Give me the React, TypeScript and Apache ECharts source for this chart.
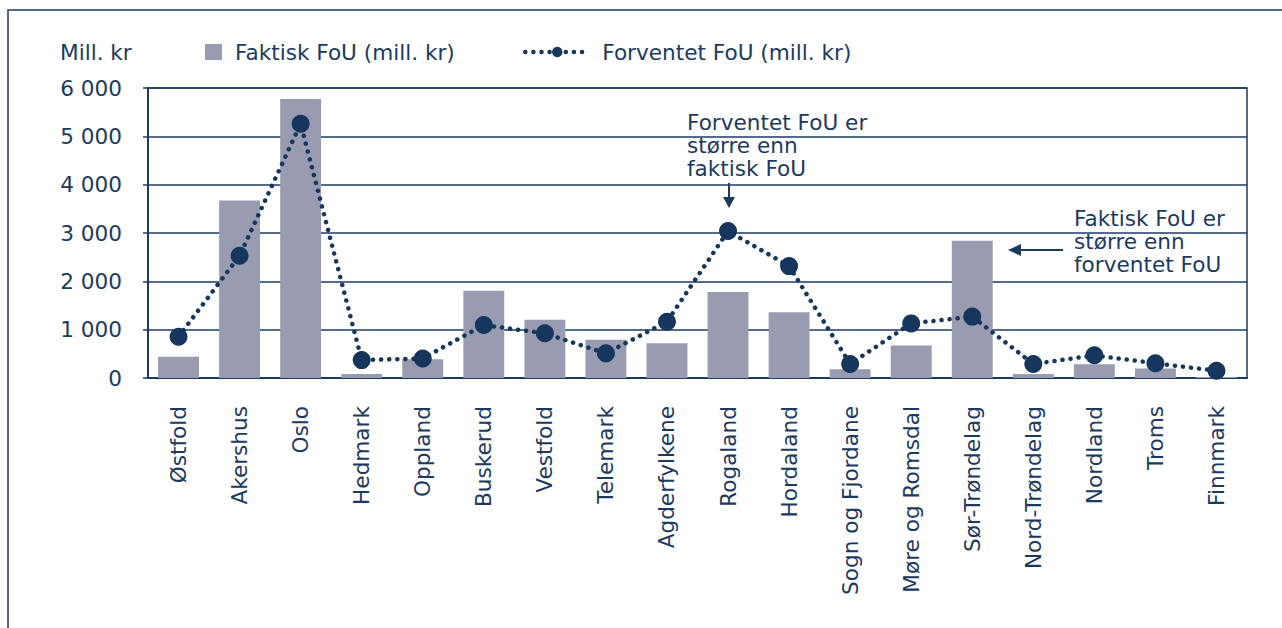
import React, { useEffect, useRef } from "react";
import * as echarts from "echarts";

const categories = [
  "Østfold", "Akershus", "Oslo", "Hedmark", "Oppland", "Buskerud", "Vestfold", "Telemark",
  "Agderfylkene", "Rogaland", "Hordaland", "Sogn og Fjordane", "Møre og Romsdal",
  "Sør-Trøndelag", "Nord-Trøndelag", "Nordland", "Troms", "Finnmark",
];
const faktisk = [440, 3670, 5770, 85, 390, 1805, 1205, 790, 720, 1780, 1360, 180, 670, 2840, 85, 285, 195, 20];
const forventet = [855, 2530, 5260, 370, 405, 1095, 925, 510, 1165, 3040, 2315, 290, 1130, 1270, 290, 470, 305, 150];
const yTicks = [0, 1000, 2000, 3000, 4000, 5000, 6000];
const seriesNames = ["Faktisk FoU (mill. kr)", "Forventet FoU (mill. kr)"];
const unitLabel = "Mill. kr";
const note1 = "Forventet FoU er\nstørre enn\nfaktisk FoU";
const note2 = "Faktisk FoU er\nstørre enn\nforventet FoU";

const NAVY = "#1c3a60";
const LINE = "#16365d";
const BAR = "#999bb0";
const FONT = "DejaVu Sans";
const FS = 21.6;

export default function App() {
  const ref = useRef<HTMLDivElement>(null);
  useEffect(() => {
    document.body.style.margin = "0";
    if (!ref.current) return;
    const chart = echarts.init(ref.current, undefined, { renderer: "svg" });
    const fmt = (v: number) => String(v).replace(/\B(?=(\d{3})+(?!\d))/g, " ");
    chart.setOption({
      animation: false,
      backgroundColor: "#ffffff",
      textStyle: { fontFamily: FONT, color: NAVY },
      title: {
        text: unitLabel,
        left: 60,
        top: 41,
        padding: 0,
        textStyle: { fontFamily: FONT, fontSize: FS, fontWeight: "normal", color: NAVY },
      },
      legend: [
        {
          data: [seriesNames[0]],
          left: 205,
          top: 41,
          padding: 0,
          itemWidth: 17,
          itemHeight: 16,
          icon: "rect",
          textStyle: { fontFamily: FONT, fontSize: FS, color: NAVY, padding: [0, 0, 0, 8] },
        },
        {
          data: [seriesNames[1]],
          left: 523,
          top: 41,
          padding: 0,
          itemWidth: 64,
          itemHeight: 13,
          lineStyle: { color: LINE, width: 4.5, type: [0.1, 8], cap: "round" },
          textStyle: { fontFamily: FONT, fontSize: FS, color: NAVY, padding: [0, 0, 0, 8] },
        },
      ],
      grid: {
        left: 148,
        right: 35,
        top: 88,
        bottom: 250,
        show: true,
        borderColor: NAVY,
        borderWidth: 1.5,
        containLabel: false,
      },
      xAxis: {
        type: "category",
        data: categories,
        axisLine: { show: true, lineStyle: { color: NAVY, width: 2 } },
        axisTick: { show: false },
        axisLabel: { rotate: 90, margin: 28, fontFamily: FONT, fontSize: FS, color: NAVY, interval: 0 },
      },
      yAxis: {
        type: "value",
        min: yTicks[0],
        max: yTicks[yTicks.length - 1],
        interval: 1000,
        axisLine: { show: true, lineStyle: { color: NAVY, width: 2 } },
        axisTick: { show: true, length: 5, lineStyle: { color: NAVY, width: 1.5 } },
        axisLabel: { margin: 26, fontFamily: FONT, fontSize: FS, color: NAVY, formatter: (v: number) => fmt(v) },
        splitLine: { show: true, lineStyle: { color: NAVY, width: 1.5 } },
      },
      series: [
        {
          name: seriesNames[0],
          type: "bar",
          data: faktisk,
          barWidth: "67%",
          itemStyle: { color: BAR },
          z: 2,
        },
        {
          name: seriesNames[1],
          type: "line",
          data: forventet,
          symbol: "circle",
          symbolSize: 18,
          showSymbol: true,
          itemStyle: { color: LINE },
          lineStyle: { color: LINE, width: 4.5, type: [0.1, 8], cap: "round" },
          z: 3,
        },
      ],
      graphic: [
        {
          type: "rect",
          silent: true,
          z: -10,
          shape: { x: 8, y: 10, width: 1400, height: 800 },
          style: { fill: "none", stroke: NAVY, lineWidth: 1.5 },
        },
        {
          type: "text",
          x: 687,
          y: 111,
          style: { text: note1, font: `${FS}px "${FONT}"`, fill: NAVY, lineHeight: 23 },
        },
        {
          type: "line",
          shape: { x1: 729, y1: 183, x2: 729, y2: 200 },
          style: { stroke: NAVY, lineWidth: 2 },
        },
        {
          type: "polygon",
          shape: { points: [[723, 197], [735, 197], [729, 208]] },
          style: { fill: NAVY },
        },
        {
          type: "text",
          x: 1074,
          y: 207,
          style: { text: note2, font: `${FS}px "${FONT}"`, fill: NAVY, lineHeight: 23 },
        },
        {
          type: "line",
          shape: { x1: 1063, y1: 250, x2: 1018, y2: 250 },
          style: { stroke: NAVY, lineWidth: 2 },
        },
        {
          type: "polygon",
          shape: { points: [[1021, 244], [1021, 256], [1008, 250]] },
          style: { fill: NAVY },
        },
      ],
    });
    return () => chart.dispose();
  }, []);
  return <div ref={ref} style={{ width: 1282, height: 628 }} />;
}
